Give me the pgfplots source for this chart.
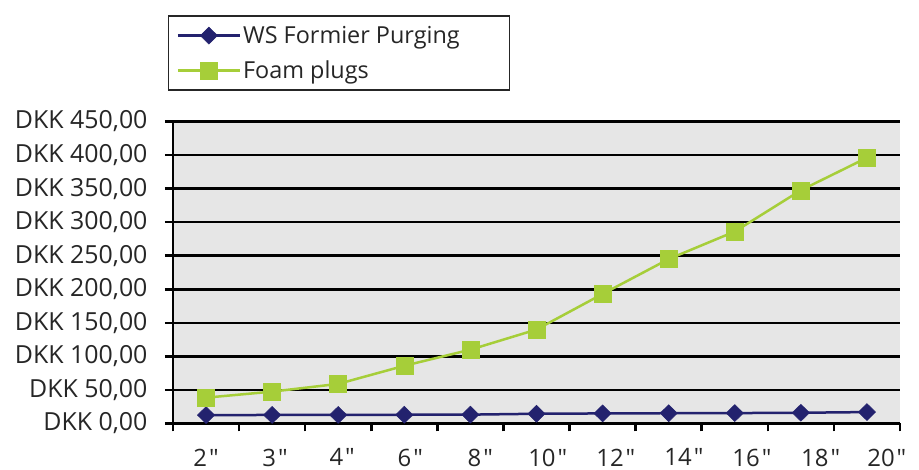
\documentclass[border=0pt]{standalone}
\usepackage{fontspec}
\setmainfont{Open Sans}
\newfontfamily\qfont{Open Sans}[Ligatures=TeXOff]
\usepackage{pgfplots}
\pgfplotsset{compat=1.18}
\definecolor{navyc}{HTML}{23226E}
\definecolor{greenc}{HTML}{A6CE39}
\definecolor{bgc}{HTML}{E6E6E6}
\newcommand{\qq}{\kern2bp{\qfont\symbol{34}}}
\begin{document}
\begin{tikzpicture}
\begin{axis}[name=ax, scale only axis, width=727bp, height=302bp,
  xmin=-0.5, xmax=10.5, ymin=0, ymax=450,
  axis background/.style={fill=bgc},
  axis lines*=left,
  axis line style={-, line width=2.5bp, black},
  ytick={0,50,...,450},
  yticklabels={{DKK 0,00},{DKK 50,00},{DKK 100,00},{DKK 150,00},{DKK 200,00},{DKK 250,00},{DKK 300,00},{DKK 350,00},{DKK 400,00},{DKK 450,00}},
  ymajorgrids, grid style={black, line width=2.5bp},
  tick align=outside, tick pos=left,
  major tick length=8bp,
  tick style={line width=2.5bp, black},
  xtick={-0.5,0.5,...,10.5},
  xticklabels={},
  extra x ticks={0,1.045,2.06,3.09,4.15,5.17,6.2,7.23,8.26,9.3,10.3},
  extra x tick labels={2\qq,3\qq,4\qq,6\qq,8\qq,10\qq,12\qq,14\qq,16\qq,18\qq,20\qq},
  extra x tick style={major tick length=0pt, grid=none, xticklabel style={inner sep=0pt, yshift=-25bp}},
  ticklabel style={font=\fontsize{24}{28}\selectfont, text=black!85},
  yticklabel style={xshift=-14bp, font=\fontsize{25}{28}\selectfont},
  legend style={at={(rel axis cs:-0.007,1.351)}, anchor=north west, draw=black!85, line width=1.5bp,
    font=\fontsize{23.5}{28}\selectfont, text=black!85, cells={anchor=west}, row sep=12bp, inner sep=8bp},
  legend image code/.code={\draw[mark repeat=2,mark phase=2] plot coordinates {(0bp,0bp) (31bp,0bp) (62bp,0bp)};},
]
\addplot[navyc, line width=2.5bp, mark=diamond*, mark size=8.5bp, mark options={xscale=1.35, fill=navyc, draw=navyc, line width=0.5bp}]
  coordinates {(0,12.5) (1,12.7) (2,12.8) (3,13) (4,13.2) (5,14.5) (6,15) (7,15.3) (8,15.5) (9,16) (10,17)};
\addlegendentry{WS Formier Purging\kern40bp}
\addplot[greenc, line width=2.5bp, mark=square*, mark size=8.5bp, mark options={fill=greenc, draw=greenc, line width=0.5bp}]
  coordinates {(0,38.5) (1,47.5) (2,59) (3,86) (4,110) (5,140) (6,193) (7,245) (8,286) (9,347.5) (10,396)};
\addlegendentry{Foam plugs}
\end{axis}
\pgfresetboundingbox
\path ([shift={(-173bp,-46.5bp)}]ax.south west) rectangle ([shift={(19bp,121.5bp)}]ax.north east);
\end{tikzpicture}
\end{document}
